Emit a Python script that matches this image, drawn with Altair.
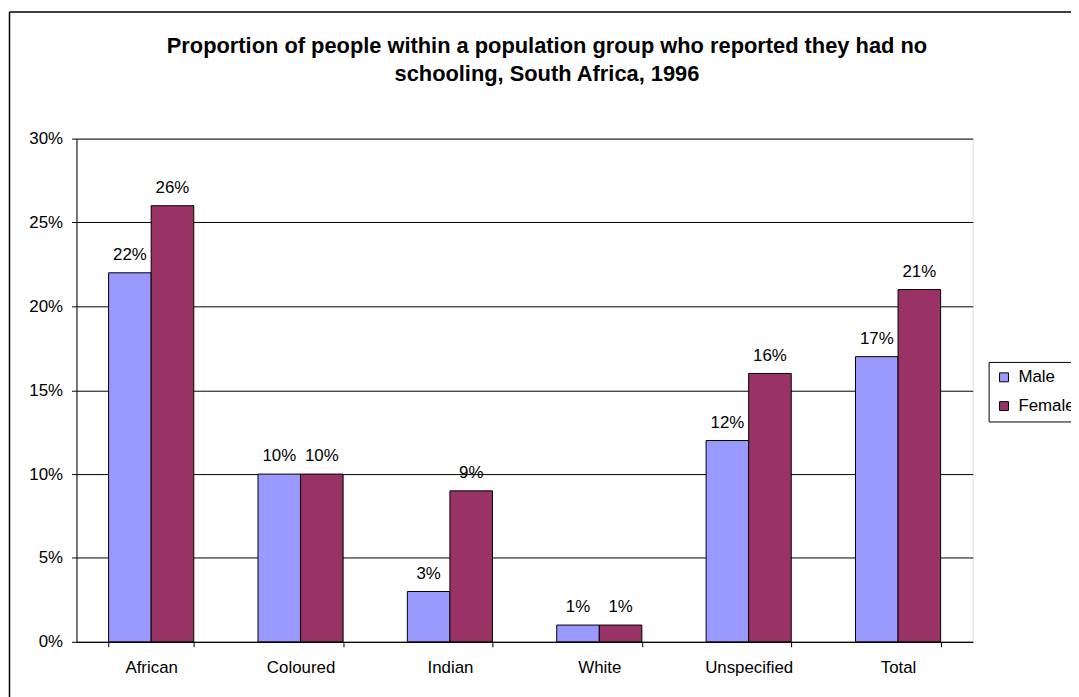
import altair as alt
import pandas as pd

categories = ["African", "Coloured", "Indian", "White", "Unspecified", "Total"]
male = [0.22, 0.10, 0.03, 0.01, 0.12, 0.17]
female = [0.26, 0.10, 0.09, 0.01, 0.16, 0.21]
series = ["Male", "Female"]
colors = ["#9999FF", "#993366"]
title_lines = [
    "Proportion of people within a population group who reported they had no",
    "schooling, South Africa, 1996",
]

rows = []
for c, m, f in zip(categories, male, female):
    rows.append({"group": c, "sex": "Male", "value": m})
    rows.append({"group": c, "sex": "Female", "value": f})
df = pd.DataFrame(rows)

FONT = "Liberation Sans"
FS = 17
W, H = 903, 507

x_enc = alt.X("group:N", sort=categories, title=None,
              scale=alt.Scale(paddingInner=0.43, paddingOuter=0.215),
              axis=alt.Axis(labelAngle=0, tickBand="extent", tickSize=5,
                            labelPadding=13, labelFontSize=FS, labelFont=FONT,
                            labelColor="black", domainColor="black",
                            tickColor="black", grid=False))
y_enc = alt.Y("value:Q", title=None,
              scale=alt.Scale(domain=[0, 0.3], nice=False),
              axis=alt.Axis(format=".0%", values=[0, 0.05, 0.1, 0.15, 0.2, 0.25, 0.3],
                            tickSize=5, labelPadding=9, labelFontSize=FS,
                            labelFont=FONT, labelColor="black",
                            domainColor="black", tickColor="black",
                            grid=True, gridColor="black", gridWidth=1))
xo = alt.XOffset("sex:N", sort=series, scale=alt.Scale(paddingInner=0))

bars = alt.Chart(df).mark_bar(stroke="black", strokeWidth=1).encode(
    x=x_enc, y=y_enc, xOffset=xo,
    color=alt.Color("sex:N", sort=series,
                    scale=alt.Scale(domain=series, range=colors),
                    legend=alt.Legend(title=None, orient="none",
                                      legendX=919, legendY=225,
                                      symbolType="square", symbolSize=81,
                                      symbolStrokeColor="black", symbolStrokeWidth=1,
                                      labelFontSize=FS, labelFont=FONT,
                                      labelColor="black", labelOffset=6,
                                      rowPadding=11, padding=7,
                                      strokeColor="black", fillColor="white")),
)

labels = alt.Chart(df).mark_text(baseline="alphabetic", dy=-13, fontSize=FS,
                                 font=FONT, color="black").encode(
    x=alt.X("group:N", sort=categories), y="value:Q", xOffset=xo,
    text=alt.Text("value:Q", format=".0%"),
)

one = alt.Data(values=[{"k": 1}])
TFS = 22
title1 = alt.Chart(one).mark_text(fontSize=TFS, fontWeight="bold", font=FONT,
                                  color="black", align="center",
                                  baseline="alphabetic").encode(
    x=alt.value(474), y=alt.value(-86), text=alt.value(title_lines[0]))
title2 = alt.Chart(one).mark_text(fontSize=TFS, fontWeight="bold", font=FONT,
                                  color="black", align="center",
                                  baseline="alphabetic").encode(
    x=alt.value(474), y=alt.value(-58), text=alt.value(title_lines[1]))

frame_left = alt.Chart(one).mark_rule(color="black", strokeWidth=1.5).encode(
    x=alt.value(-67.5), y=alt.value(-127.5), y2=alt.value(700))
frame_top = alt.Chart(one).mark_rule(color="black", strokeWidth=1.5).encode(
    x=alt.value(-67.5), x2=alt.value(1200), y=alt.value(-127.5))

chart = alt.layer(bars, labels, title1, title2, frame_left, frame_top).properties(
    width=W, height=H,
    autosize=alt.AutoSizeParams(type="none"),
    padding={"left": 69, "top": 129, "right": 99, "bottom": 53},
).configure_view(stroke="#808080", strokeWidth=1.5).configure(background="white")

chart.save("out.html", embed_options={"renderer": "svg", "actions": False})
